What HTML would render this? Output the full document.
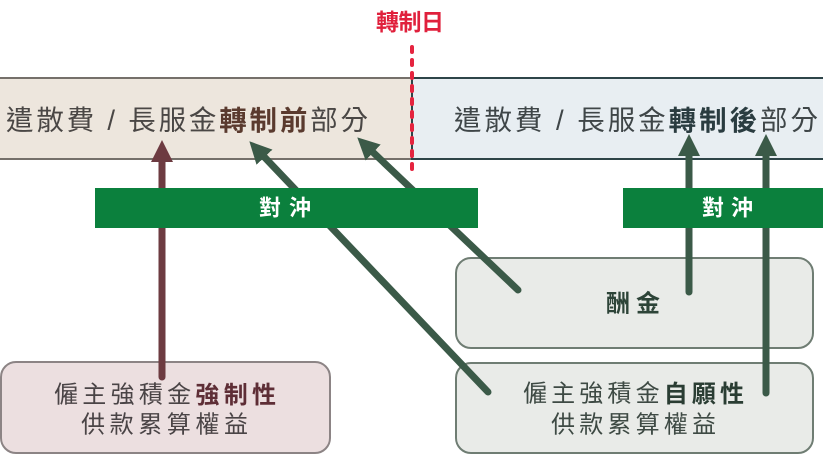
<!DOCTYPE html>
<html><head><meta charset="utf-8"><style>
html,body{margin:0;padding:0;background:#fff;}
svg{display:block;}
text{font-family:"Liberation Sans","Noto Sans CJK TC","Noto Sans CJK SC",sans-serif;}
</style></head><body>
<svg width="823" height="462" viewBox="0 0 823 462" xmlns="http://www.w3.org/2000/svg">
<defs>
<marker id="hm" viewBox="0 0 22 22" refX="0" refY="11" markerWidth="22" markerHeight="22" markerUnits="userSpaceOnUse" orient="auto"><path d="M0,0 L22,11 L0,22 z" fill="#6d3b41"/></marker>
<marker id="hg" viewBox="0 0 22 22" refX="0" refY="11" markerWidth="22" markerHeight="22" markerUnits="userSpaceOnUse" orient="auto"><path d="M0,0 L22,11 L0,22 z" fill="#3b5a48"/></marker>
</defs>
<!-- top boxes -->
<rect x="-5" y="78" width="417" height="81" fill="#ede6dd" stroke="#75706a" stroke-width="2"/>
<rect x="412" y="78" width="416" height="81" fill="#e8eef2" stroke="#2d4448" stroke-width="2"/>
<text x="6" y="120" font-size="27.5" fill="#4a4745" dominant-baseline="central" textLength="362" lengthAdjust="spacing">遣散費 / 長服金<tspan font-weight="bold" fill="#5a3a2e">轉制前</tspan>部分</text>
<text x="454" y="120" font-size="27.5" fill="#3f4648" dominant-baseline="central" textLength="364" lengthAdjust="spacing">遣散費 / 長服金<tspan font-weight="bold" fill="#2a3c40">轉制後</tspan>部分</text>
<!-- red label -->
<text x="376" y="22" font-size="23" font-weight="bold" fill="#e0203c" dominant-baseline="central" textLength="68" lengthAdjust="spacing">轉制日</text>
<!-- bottom boxes -->
<rect x="1" y="362" width="329" height="91" rx="15" fill="#ecdfe0" stroke="#8c8485" stroke-width="2"/>
<rect x="456" y="258" width="357" height="90" rx="15" fill="#e9ebe8" stroke="#6f7d73" stroke-width="2"/>
<rect x="456" y="363" width="357" height="90" rx="15" fill="#e9ebe8" stroke="#6f7d73" stroke-width="2"/>
<text x="54" y="395" font-size="24" fill="#4a4446" dominant-baseline="central" textLength="222" lengthAdjust="spacing">僱主強積金<tspan font-weight="bold" fill="#5e2e36">強制性</tspan></text>
<text x="81" y="425" font-size="24" fill="#4a4446" dominant-baseline="central" textLength="167" lengthAdjust="spacing">供款累算權益</text>
<text x="606" y="304" font-size="24" font-weight="bold" fill="#2d4438" dominant-baseline="central" textLength="54" lengthAdjust="spacing">酬金</text>
<text x="523" y="394" font-size="24" fill="#3e4a44" dominant-baseline="central" textLength="221" lengthAdjust="spacing">僱主強積金<tspan font-weight="bold" fill="#2a3d33">自願性</tspan></text>
<text x="551" y="425" font-size="24" fill="#3e4a44" dominant-baseline="central" textLength="165" lengthAdjust="spacing">供款累算權益</text>
<!-- arrows -->
<g stroke-width="7" stroke-linecap="round" fill="none">
<line x1="162" y1="377" x2="162" y2="162" stroke="#6d3b41" marker-end="url(#hm)"/>
<line x1="488" y1="392" x2="264.5" y2="157.2" stroke="#3b5a48" marker-end="url(#hg)"/>
<line x1="518" y1="290" x2="373.2" y2="152.5" stroke="#3b5a48" marker-end="url(#hg)"/>
<line x1="689" y1="292" x2="689" y2="156" stroke="#3b5a48" marker-end="url(#hg)"/>
<line x1="766" y1="393" x2="766" y2="156" stroke="#3b5a48" marker-end="url(#hg)"/>
</g>
<!-- green bars -->
<rect x="95" y="188" width="383" height="40" fill="#0b803d"/>
<rect x="623" y="188" width="205" height="40" fill="#0b803d"/>
<text x="259" y="208" font-size="22" font-weight="bold" fill="#ffffff" dominant-baseline="central" textLength="52" lengthAdjust="spacing">對沖</text>
<text x="702" y="208" font-size="22" font-weight="bold" fill="#ffffff" dominant-baseline="central" textLength="51" lengthAdjust="spacing">對沖</text>
<!-- red dashed line -->
<line x1="412" y1="47" x2="412" y2="175" stroke="#e5243f" stroke-width="4" stroke-dasharray="5 8" stroke-linecap="round"/>
</svg>
</body></html>
